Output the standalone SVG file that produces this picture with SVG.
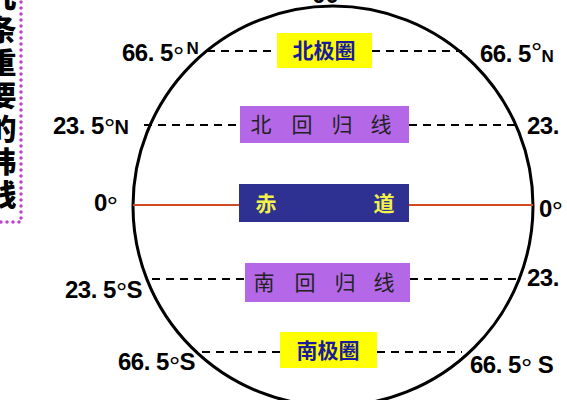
<svg xmlns="http://www.w3.org/2000/svg" width="567" height="400" viewBox="0 0 567 400">
<style>
.lab{font-family:"Liberation Sans",Arial,sans-serif;font-weight:bold;font-size:24px;fill:#000;letter-spacing:-0.5px}
.dg{font-family:"Liberation Sans",Arial,sans-serif;font-weight:normal;font-size:28px}
.sm{font-size:17px}
.cjkb{font-family:"Noto Sans CJK SC",sans-serif;font-weight:bold;font-size:21px;text-anchor:middle}
.cjk{font-family:"Noto Sans CJK SC",sans-serif;font-size:21px;fill:#222;text-anchor:middle}
.side{font-family:"Noto Sans CJK SC",sans-serif;font-weight:900;font-size:29px;fill:#000;writing-mode:vertical-rl;letter-spacing:4px}
.dash{stroke:#000;stroke-width:2;stroke-dasharray:8 6;fill:none}
.eq{stroke:#d04a24;stroke-width:2;fill:none}
</style>
<rect width="567" height="400" fill="#fff"/>
<g id="side-title">
<text class="side" x="2" y="-18">几条重要的纬线</text>
<path d="M21 2 V222 H0" stroke="#c040d0" stroke-width="3.5" stroke-linecap="round" stroke-dasharray="0 6" fill="none"/>
</g>
<g id="globe">
<circle cx="333" cy="206" r="200" fill="none" stroke="#000" stroke-width="3"/>
<text class="lab" x="330" y="3" text-anchor="middle">90°</text>
</g>
<g id="connectors">
<line class="dash" x1="207" y1="51" x2="277" y2="51"/>
<line class="dash" x1="372" y1="51" x2="462" y2="51"/>
<line class="dash" x1="144" y1="125" x2="240" y2="125"/>
<line class="dash" x1="409" y1="125" x2="521" y2="125"/>
<line class="eq" x1="133" y1="205" x2="240" y2="205"/>
<line class="eq" x1="409" y1="205" x2="533" y2="205"/>
<line class="dash" x1="152" y1="279" x2="245" y2="279"/>
<line class="dash" x1="410" y1="279" x2="521" y2="279"/>
<line class="dash" x1="202" y1="352" x2="280" y2="352"/>
<line class="dash" x1="377" y1="352" x2="462" y2="352"/>
</g>
<g id="arctic-circle">
<rect x="277" y="33" width="95" height="35" fill="#ffff00"/>
<text class="cjkb" x="324" y="58" fill="#1a1a9c">北极圈</text>
</g>
<g id="tropic-cancer">
<rect x="240" y="106" width="169" height="37" fill="#b468e8"/>
<text class="cjk" x="261" y="132">北</text>
<text class="cjk" x="302" y="132">回</text>
<text class="cjk" x="342" y="132">归</text>
<text class="cjk" x="381" y="132">线</text>
</g>
<g id="equator">
<rect x="239" y="184" width="170" height="38" fill="#2e3192"/>
<text class="cjkb" x="266" y="211" fill="#f2f24a">赤</text>
<text class="cjkb" x="384" y="211" fill="#f2f24a">道</text>
</g>
<g id="tropic-capricorn">
<rect x="245" y="263" width="165" height="39" fill="#b468e8"/>
<text class="cjk" x="264" y="290">南</text>
<text class="cjk" x="305" y="290">回</text>
<text class="cjk" x="345" y="290">归</text>
<text class="cjk" x="384" y="290">线</text>
</g>
<g id="antarctic-circle">
<rect x="280" y="332" width="97" height="36" fill="#ffff00"/>
<text class="cjkb" x="328" y="358" fill="#1a1a9c">南极圈</text>
</g>
<g id="labels">
<text class="lab" x="122" y="61">66. 5<tspan class="dg" dy="5">°</tspan><tspan class="sm" dx="3" dy="-12">N</tspan></text>
<text class="lab" x="480" y="62">66. 5<tspan class="dg">°</tspan><tspan class="sm">N</tspan></text>
<text class="lab" x="53" y="134">23. 5<tspan class="dg" dy="4">°</tspan><tspan style="font-size:20px" dy="-4">N</tspan></text>
<text class="lab" x="527" y="134">23.</text>
<text class="lab" x="94" y="211">0<tspan class="dg" dy="5">°</tspan></text>
<text class="lab" x="539" y="217">0<tspan class="dg" dy="4">°</tspan></text>
<text class="lab" x="65" y="298">23. 5<tspan class="dg" dy="4">°</tspan><tspan dy="-4">S</tspan></text>
<text class="lab" x="527" y="286">23.</text>
<text class="lab" x="118" y="370">66. 5<tspan class="dg" dy="6">°</tspan><tspan dy="-6">S</tspan></text>
<text class="lab" x="470" y="373">66. 5<tspan class="dg" dy="5">°</tspan><tspan dy="-5"> S</tspan></text>
</g>
</svg>
